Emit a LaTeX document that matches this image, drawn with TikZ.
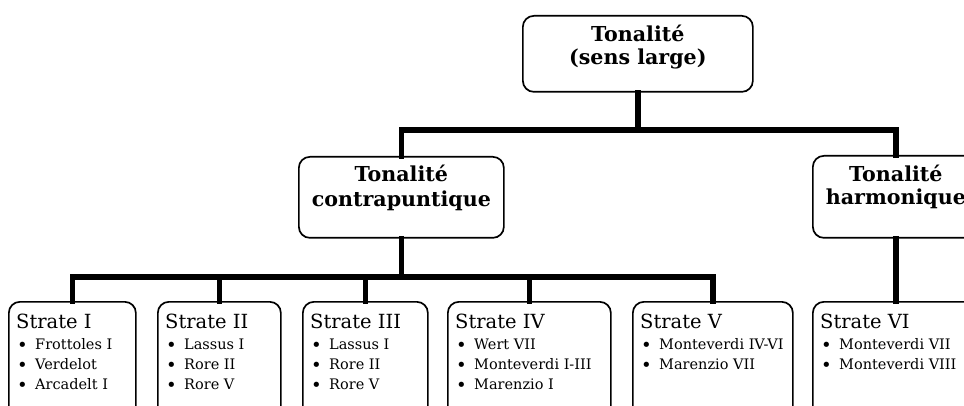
\documentclass[tikz,border=0pt]{standalone}
\usepackage{fontspec}
\setmainfont{DejaVu Serif}
\begin{document}
\begin{tikzpicture}[x=1pt,y=-1pt,
  box/.style={draw, line width=1.7pt, rounded corners=11pt, fill=white, inner sep=0pt, anchor=north west},
  ttext/.style={anchor=base, inner sep=0pt, font=\bfseries\fontsize{20.6}{23}\selectfont},
  link/.style={line width=5.5pt, line cap=rect, line join=miter},
  sttitle/.style={anchor=base west, inner sep=0pt, font=\fontsize{19.5}{24}\selectfont},
  item/.style={anchor=base west, inner sep=0pt, font=\fontsize{14.5}{20}\selectfont},
  bul/.style={anchor=base west, inner sep=0pt, yshift=-2pt, font=\fontsize{18}{20}\selectfont}]
\useasboundingbox (0,0) rectangle (964,406);
\clip (0,0) rectangle (964,406);
\fill[white] (0,0) rectangle (964,406);

\coordinate (busA) at (0,130);
\coordinate (busB) at (0,277);

\node[box, minimum width=230pt, minimum height=76pt] (top) at (522,15) {};
\node[box, minimum width=205pt, minimum height=81pt] (contra) at (298,156) {};
\node[box, minimum width=166pt, minimum height=82pt] (harm) at (812,155) {};

\node[ttext] (top1) at ([yshift=-27pt]top.north) {Tonalité};
\node[ttext] (top2) at ([yshift=-50pt]top.north) {(sens large)};
\node[ttext] (contra1) at ([yshift=-26pt]contra.north) {Tonalité};
\node[ttext] (contra2) at ([yshift=-51pt]contra.north) {contrapuntique};
\node[ttext] (harm1) at ([yshift=-27pt]harm.north) {Tonalité};
\node[ttext] (harm2) at ([yshift=-50pt]harm.north) {harmonique};

\node[box, minimum width=127pt, minimum height=130pt] (s1) at (8,301) {};
\node[box, minimum width=123pt, minimum height=130pt] (s2) at (157,301) {};
\node[box, minimum width=125pt, minimum height=130pt] (s3) at (302,301) {};
\node[box, minimum width=163pt, minimum height=130pt] (s4) at (447,301) {};
\node[box, minimum width=160pt, minimum height=130pt] (s5) at (632,301) {};
\node[box, minimum width=166pt, minimum height=130pt] (s6) at (812,301) {};

\draw[link] (top.south) -- (top.south |- busA);
\draw[link] (contra.north) -- (contra.north |- busA) -- (harm.north |- busA) -- (harm.north);
\draw[link] (contra.south) -- (contra.south |- busB);
\draw[link] (s1.north) -- (s1.north |- busB) -- (s5.north |- busB) -- (s5.north);
\draw[link] (s2.north) -- (s2.north |- busB);
\draw[link] (s3.north) -- (s3.north |- busB);
\draw[link] (s4.north) -- (s4.north |- busB);
\draw[link] (harm.south) -- (s6.north);

\foreach \b/\t/\i/\j/\k in {s1/Strate I/Frottoles I/Verdelot/Arcadelt I,
                            s2/Strate II/Lassus I/Rore II/Rore V,
                            s3/Strate III/Lassus I/Rore II/Rore V,
                            s4/Strate IV/Wert VII/Monteverdi I-III/Marenzio I}{
  \node[sttitle] (\b t) at ([xshift=8pt,yshift=-27pt]\b.north west) {\t};
  \node[bul] (\b b1) at ([xshift=9pt,yshift=-48pt]\b.north west) {\textbullet};
  \node[item] (\b i1) at ([xshift=27pt,yshift=-48pt]\b.north west) {\i};
  \node[bul] (\b b2) at ([xshift=9pt,yshift=-68pt]\b.north west) {\textbullet};
  \node[item] (\b i2) at ([xshift=27pt,yshift=-68pt]\b.north west) {\j};
  \node[bul] (\b b3) at ([xshift=9pt,yshift=-88pt]\b.north west) {\textbullet};
  \node[item] (\b i3) at ([xshift=27pt,yshift=-88pt]\b.north west) {\k};
}
\foreach \b/\t/\i/\j in {s5/Strate V/Monteverdi IV-VI/Marenzio VII,
                         s6/Strate VI/Monteverdi VII/Monteverdi VIII}{
  \node[sttitle] (\b t) at ([xshift=8pt,yshift=-27pt]\b.north west) {\t};
  \node[bul] (\b b1) at ([xshift=9pt,yshift=-48pt]\b.north west) {\textbullet};
  \node[item] (\b i1) at ([xshift=27pt,yshift=-48pt]\b.north west) {\i};
  \node[bul] (\b b2) at ([xshift=9pt,yshift=-68pt]\b.north west) {\textbullet};
  \node[item] (\b i2) at ([xshift=27pt,yshift=-68pt]\b.north west) {\j};
}
\end{tikzpicture}
\end{document}
